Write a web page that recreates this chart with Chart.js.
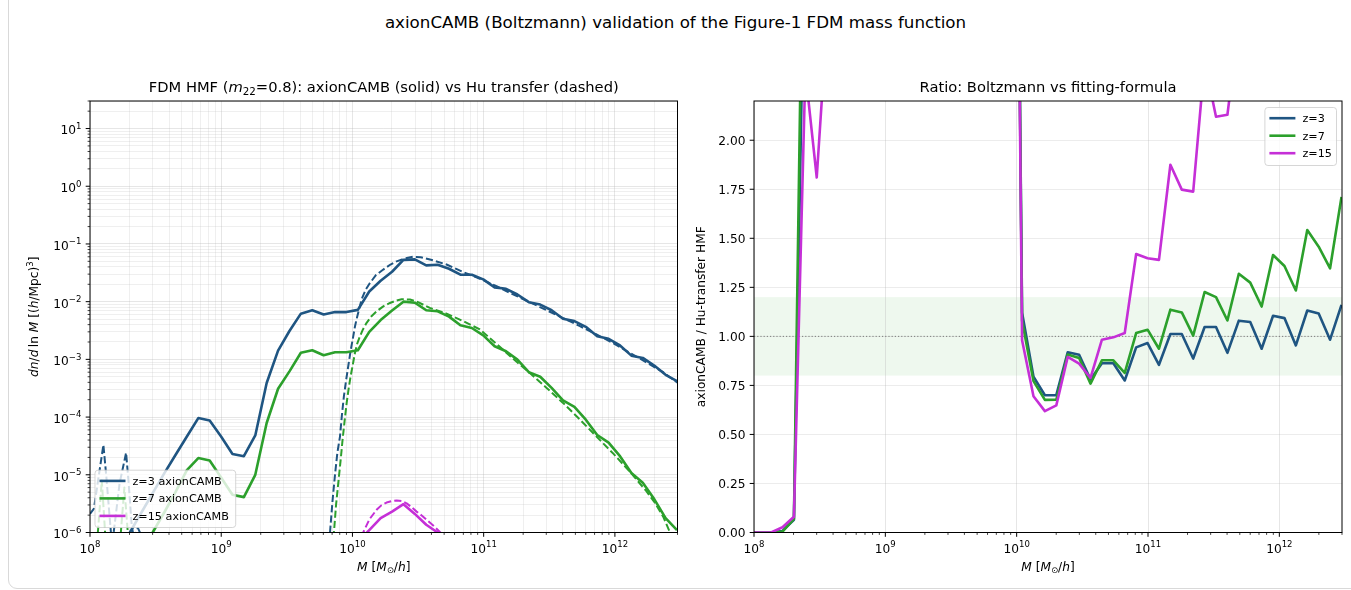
<!DOCTYPE html>
<html>
<head>
<meta charset="utf-8">
<title>axionCAMB validation of the FDM mass function</title>
<script src="https://cdn.jsdelivr.net/npm/chart.js@4.4.1/dist/chart.umd.min.js"></script>
<style>
  html, body { margin: 0; padding: 0; background: #fff; }
  body { position: relative; width: 1351px; height: 590px; overflow: hidden; font-family: "DejaVu Sans", sans-serif; }
  #frame { position: absolute; left: 8px; top: -20px; width: 1420px; height: 609px; box-sizing: border-box;
           border: 1px solid #d9d9d9; border-radius: 9px; }
  #suptitle { position: absolute; left: 0; top: 12px; width: 1351px; text-align: center; font-size: 16.7px;
              line-height: 20px; color: #000; white-space: nowrap; }
  canvas { position: absolute; top: 0; }
  #hmf { left: 0; }
  #ratio { left: 680px; }
</style>
</head>
<body>
<div id="frame"></div>
<div id="suptitle">axionCAMB (Boltzmann) validation of the Figure-1 FDM mass function</div>
<canvas id="hmf" width="700" height="590"></canvas>
<canvas id="ratio" width="671" height="590"></canvas>
<script>
/*
axionCAMB vs Hu-transfer FDM halo mass function, plus the ratio panel
*/

// mass grid of the axionCAMB curves and of the ratios, log10(M / (Msun/h))
const logM = [7.9565, 8.0434, 8.1303, 8.2171, 8.3040, 8.3909, 8.4777, 8.5646, 8.6514, 8.7383,
  8.8252, 8.9120, 8.9989, 9.0857, 9.1726, 9.2595, 9.3463, 9.4332, 9.5200, 9.6069,
  9.6938, 9.7806, 9.8675, 9.9543, 10.0412, 10.1281, 10.2149, 10.3018, 10.3886, 10.4755,
  10.5624, 10.6492, 10.7361, 10.8229, 10.9098, 10.9967, 11.0835, 11.1704, 11.2572, 11.3441,
  11.4310, 11.5178, 11.6047, 11.6915, 11.7784, 11.8653, 11.9521, 12.0390, 12.1258, 12.2127,
  12.2996, 12.3864, 12.4733];

// axionCAMB dn/dlnM [(h/Mpc)^3] (solid)
const hmfZ3 = [1e-8, 2e-8, 5e-8, 2e-7, 1.0e-6, 2.2e-6, 4.8e-6, 1.05e-5, 2.2e-5, 4.6e-5,
  9.6e-5, 8.7e-5, 4.6e-5, 2.3e-5, 2.1e-5, 4.8e-5, 3.9e-4, 1.42e-3, 3.1e-3, 6.2e-3,
  7.1e-3, 6.0e-3, 6.6e-3, 6.6e-3, 7.2e-3, 1.5e-2, 2.3e-2, 3.3e-2, 5.3e-2, 5.4e-2,
  4.25e-2, 4.37e-2, 3.72e-2, 2.93e-2, 2.93e-2, 2.43e-2, 1.77e-2, 1.67e-2, 1.33e-2, 9.8e-3,
  8.9e-3, 7.1e-3, 5.05e-3, 4.6e-3, 3.66e-3, 2.52e-3, 2.27e-3, 1.74e-3, 1.16e-3, 1.06e-3,
  7.8e-4, 5.4e-4, 4.2e-4];
const hmfZ7 = [5e-10, 1e-9, 3e-9, 1e-8, 4e-8, 2e-7, 1.0e-6, 2.2e-6, 5e-6, 1.2e-5,
  1.95e-5, 1.77e-5, 9e-6, 4.5e-6, 4.1e-6, 1.0e-5, 7.9e-5, 3.1e-4, 6.2e-4, 1.3e-3,
  1.44e-3, 1.18e-3, 1.33e-3, 1.33e-3, 1.44e-3, 3.0e-3, 4.8e-3, 7.0e-3, 1.0e-2, 9.6e-3,
  7.1e-3, 6.8e-3, 5.5e-3, 3.9e-3, 3.5e-3, 2.6e-3, 1.69e-3, 1.38e-3, 9.9e-4, 6.0e-4,
  5.0e-4, 3.2e-4, 1.95e-4, 1.5e-4, 9.0e-5, 4.9e-5, 3.6e-5, 2.1e-5, 1.07e-5, 7.3e-6,
  3.8e-6, 1.77e-6, 1.1e-6];
const hmfZ15 = [1e-8, 1.2e-8, 1.5e-8, 2e-8, 2.5e-8, 3e-8, 4e-8, 5e-8, 6e-8, 7e-8,
  8e-8, 9e-8, 1e-7, 1.1e-7, 1.2e-7, 1.4e-7, 1.6e-7, 1.8e-7, 2.1e-7, 2.5e-7,
  3e-7, 3.6e-7, 4.3e-7, 5.2e-7, 6.9e-7, 1.1e-6, 1.77e-6, 2.3e-6, 3.1e-6, 2.1e-6,
  1.36e-6, 1.0e-6, 6.5e-7, 4e-7, 3e-7, 2e-7, 1.4e-7, 1e-7, 6e-8, 4e-8,
  2.5e-8, 1.5e-8, 9e-9, 5e-9, 3e-9, 1.6e-9, 9e-10, 5e-10, 2.5e-10, 1.2e-10,
  6e-11, 3e-11, 1.5e-11];

// Hu-transfer HMF (dashed), each on its own mass sampling
const huLogM3 = [8.000, 8.030, 8.065, 8.102, 8.125, 8.150, 8.168, 8.190, 8.225, 8.275,
  8.295, 8.318, 8.335, 8.365, 8.400, 8.450, 8.800, 9.300, 9.700, 9.800,
  9.829, 9.848, 9.867, 9.885, 9.905, 9.920, 9.935, 9.952, 9.968, 9.987,
  10.006, 10.020, 10.037, 10.070, 10.100, 10.133, 10.180, 10.235, 10.290, 10.337,
  10.400, 10.460, 10.520, 10.615, 10.717, 10.844, 10.971, 11.098, 11.220, 11.352,
  11.480, 11.605, 11.730, 11.860, 11.990, 12.113, 12.240, 12.367, 12.480];
const huZ3 = [2.1e-6, 2.6e-6, 9e-6, 3.3e-5, 9e-6, 1.8e-6, 6e-7, 1.5e-6, 7e-6, 2.4e-5,
  7e-6, 1.3e-6, 8e-7, 1.2e-6, 8e-7, 2e-7, 1e-8, 1e-8, 1e-8, 1e-7,
  1e-6, 3.5e-6, 1e-5, 2.4e-5, 4.6e-5, 1.1e-4, 2.3e-4, 4.4e-4, 7.6e-4, 1.45e-3,
  2.5e-3, 3.8e-3, 5.6e-3, 1.1e-2, 1.6e-2, 2.1e-2, 2.9e-2, 3.6e-2, 4.4e-2, 5.0e-2,
  5.6e-2, 6.0e-2, 5.9e-2, 5.2e-2, 4.4e-2, 3.25e-2, 2.5e-2, 1.86e-2, 1.35e-2, 9.8e-3,
  7.1e-3, 5.2e-3, 3.8e-3, 2.7e-3, 1.9e-3, 1.3e-3, 8.9e-4, 6.0e-4, 3.9e-4];
const huLogM7 = [8.000, 8.060, 8.090, 8.115, 8.140, 8.235, 8.262, 8.288, 8.310, 8.600,
  9.300, 9.800, 9.845, 9.859, 9.875, 9.892, 9.910, 9.925, 9.940, 9.956,
  9.970, 9.986, 10.000, 10.019, 10.037, 10.057, 10.080, 10.108, 10.145, 10.184,
  10.235, 10.286, 10.330, 10.375, 10.438, 10.500, 10.590, 10.717, 10.844, 10.971,
  11.098, 11.220, 11.352, 11.480, 11.605, 11.730, 11.860, 11.990, 12.113, 12.240,
  12.300, 12.367, 12.420, 12.480];
const huZ7 = [3e-7, 1e-6, 8e-6, 1e-6, 2e-7, 1e-6, 6e-6, 1e-6, 2e-7, 1e-8,
  1e-8, 1e-8, 2e-7, 1e-6, 3e-6, 7.2e-6, 1.8e-5, 4.1e-5, 8.5e-5, 1.76e-4,
  3.0e-4, 5.1e-4, 7.5e-4, 1.29e-3, 1.9e-3, 2.5e-3, 3.3e-3, 4.3e-3, 5.6e-3, 6.8e-3,
  8.3e-3, 9.5e-3, 1.04e-2, 1.1e-2, 1.09e-2, 9.8e-3, 7.8e-3, 6.2e-3, 4.6e-3, 3.3e-3,
  1.85e-3, 1.05e-3, 5.8e-4, 3.2e-4, 1.76e-4, 9.2e-5, 4.6e-5, 2.3e-5, 1.14e-5, 5.2e-6,
  3.4e-6, 1.9e-6, 1.0e-6, 5.5e-7];
const huLogM15 = [9.900, 10.000, 10.050, 10.082, 10.130, 10.184, 10.220, 10.260, 10.300, 10.337,
  10.375, 10.413, 10.450, 10.489, 10.530, 10.566, 10.620, 10.670, 10.750, 10.900, 11.200];
const huZ15 = [1e-8, 2e-7, 6e-7, 1.0e-6, 1.7e-6, 2.47e-6, 2.95e-6, 3.3e-6, 3.5e-6, 3.6e-6,
  3.5e-6, 3.2e-6, 2.75e-6, 2.3e-6, 1.95e-6, 1.65e-6, 1.3e-6, 1.0e-6, 6e-7, 2e-7, 1e-8];

// axionCAMB / Hu-transfer ratio on the logM grid
const ratioZ3 = [0, 0, 0, 0.008, 0.065, 3.3,
  40, 300, 2e3, 1e4, 5e4, 2e5, 5e5, 8e5, 1e6, 9e5, 6e5, 3e5, 1e5, 3e4, 8e3, 1.5e3, 300,
  7, 1.12, 0.794, 0.70, 0.70, 0.919, 0.906, 0.78, 0.863, 0.863,
  0.775, 0.944, 0.966, 0.855, 1.012, 1.012, 0.887, 1.048, 1.048, 0.916,
  1.08, 1.073, 0.937, 1.105, 1.093, 0.954, 1.132, 1.117, 0.983, 1.161];
const ratioZ7 = [0, 0, 0, 0.005, 0.07, 4.0,
  50, 400, 3e3, 1.5e4, 7e4, 3e5, 7e5, 1e6, 1.2e6, 1e6, 7e5, 3e5, 1e5, 3e4, 8e3, 1.5e3, 300,
  7, 1.08, 0.772, 0.676, 0.677, 0.907, 0.89, 0.759, 0.878, 0.878,
  0.814, 1.017, 1.034, 0.937, 1.136, 1.122, 1.004, 1.226, 1.2, 1.081,
  1.319, 1.274, 1.152, 1.415, 1.359, 1.234, 1.542, 1.457, 1.347, 1.711];
const ratioZ15 = [0, 0, 0, 0.027, 0.08, 2.35, 1.81, 2.7,
  20, 90, 400, 2e3, 8e3, 3e4, 8e4, 1e5, 8e4, 4e4, 1.5e4, 4e3, 900, 200, 40,
  7, 0.98, 0.695, 0.619, 0.648, 0.895, 0.861, 0.788, 0.983, 0.995,
  1.017, 1.42, 1.398, 1.39, 1.875, 1.748, 1.738, 2.4, 2.12, 2.13,
  2.6, 2.55, 2.4, 3.0, 2.95, 2.6, 3.4, 3.3, 2.9, 3.9];

const redshiftLabels = ['z=3', 'z=7', 'z=15'];
const zColors = ['#1f5582', '#2ca02c', '#c52fd7'];

// axis ranges and labelled ticks
const massRange = [1e8, 3e12];
const hmfRange = [1e-6, 30];
const ratioRange = [0, 2.2];
const ratioTicks = [0, 0.25, 0.5, 0.75, 1.0, 1.25, 1.5, 1.75, 2.0];
const goodBand = [0.8, 1.2];


// ---- helpers ----
const FONT = '"DejaVu Sans", sans-serif';
const up = t => ({ t });
const it = t => ({ t, it: true });
const sub = t => ({ t, sc: 0.7, dy: 0.2 });
const sup = t => ({ t, sc: 0.7, dy: -0.45 });

const pts = (lx, ys) => lx.map((l, i) => ({ x: Math.pow(10, l), y: ys[i] }));
const isDecade = v => Math.abs(Math.log10(v) - Math.round(Math.log10(v))) < 1e-6;

// 1..9 x 10^n ticks inside a range
function logTicks(min, max) {
  const out = [];
  for (let e = Math.floor(Math.log10(min)); e <= Math.ceil(Math.log10(max)); e++) {
    for (let m = 1; m <= 9; m++) {
      const v = m * Math.pow(10, e);
      if (v >= min * (1 - 1e-9) && v <= max * (1 + 1e-9)) out.push(v);
    }
  }
  return out;
}

// mathtext-like text: segments with italic / sub / sup
function drawRich(ctx, segs, x, y, size, align, angle) {
  const parts = segs.map(s => {
    const font = (s.it ? 'italic ' : '') + (size * (s.sc || 1)) + 'px ' + FONT;
    ctx.font = font;
    return { t: s.t, font, w: ctx.measureText(s.t).width, dy: (s.dy || 0) * size };
  });
  const total = parts.reduce((a, p) => a + p.w, 0);
  let cx = align === 'center' ? -total / 2 : (align === 'right' ? -total : 0);
  ctx.save();
  ctx.translate(x, y);
  if (angle) ctx.rotate(angle);
  ctx.fillStyle = '#000';
  ctx.textAlign = 'left';
  ctx.textBaseline = 'alphabetic';
  for (const p of parts) {
    ctx.font = p.font;
    ctx.fillText(p.t, cx, p.dy);
    cx += p.w;
  }
  ctx.restore();
}

function decadeLabel(v) {
  const n = Math.round(Math.log10(v));
  return [up('10'), sup(n < 0 ? '\u2212' + (-n) : String(n))];
}

// spines, ticks, labels, titles, in-axes legend, reference band
const axesDeco = {
  id: 'axesDeco',

  beforeDraw(chart, args, o) {
    if (!o.band) return;
    const { ctx, chartArea: a, scales: { y } } = chart;
    const yTop = y.getPixelForValue(o.band[1]);
    const yBot = y.getPixelForValue(o.band[0]);
    ctx.save();
    ctx.fillStyle = 'rgba(44,160,44,0.08)';
    ctx.fillRect(a.left, yTop, a.right - a.left, yBot - yTop);
    ctx.restore();
  },

  beforeDatasetsDraw(chart, args, o) {
    if (o.refLine == null) return;
    const { ctx, chartArea: a, scales: { y } } = chart;
    const py = y.getPixelForValue(o.refLine);
    ctx.save();
    ctx.strokeStyle = 'rgba(90,90,90,0.75)';
    ctx.lineWidth = 1;
    ctx.setLineDash([1.2, 2]);
    ctx.beginPath();
    ctx.moveTo(a.left, py);
    ctx.lineTo(a.right, py);
    ctx.stroke();
    ctx.restore();
  },

  afterDraw(chart, args, o) {
    const { ctx, chartArea: a, scales: { x, y } } = chart;
    ctx.save();
    ctx.strokeStyle = '#000';
    ctx.fillStyle = '#000';

    const line = (x1, y1, x2, y2, w) => {
      ctx.lineWidth = w;
      ctx.beginPath();
      ctx.moveTo(x1, y1);
      ctx.lineTo(x2, y2);
      ctx.stroke();
    };

    // x ticks
    for (const t of x.ticks) {
      const px = x.getPixelForValue(t.value);
      const major = isDecade(t.value);
      line(px, a.bottom, px, a.bottom + (major ? 4.3 : 2.4), major ? 1 : 0.75);
      if (major) drawRich(ctx, decadeLabel(t.value), px, a.bottom + 20.3, 12.2, 'center');
    }

    // y ticks
    for (const t of y.ticks) {
      const py = y.getPixelForValue(t.value);
      if (o.yLog) {
        const major = isDecade(t.value);
        line(a.left, py, a.left - (major ? 4.3 : 2.4), py, major ? 1 : 0.75);
        if (major) drawRich(ctx, decadeLabel(t.value), a.left - 8.6, py + 5.85, 12.2, 'right');
      } else {
        line(a.left, py, a.left - 4.3, py, 1);
        drawRich(ctx, [up(t.value.toFixed(2))], a.left - 8.6, py + 4.45, 12.2, 'right');
      }
    }

    // spines
    ctx.lineWidth = 1;
    ctx.strokeRect(a.left, a.top, a.right - a.left, a.bottom - a.top);

    // titles
    const cx = (a.left + a.right) / 2;
    drawRich(ctx, o.title, cx, a.top - 9, 14.7, 'center');
    drawRich(ctx, o.xTitle, cx, a.bottom + 38.5, 12.2, 'center');
    drawRich(ctx, o.yTitle, o.yTitleX, (a.top + a.bottom) / 2, 12.2, 'center', -Math.PI / 2);

    // legend
    const L = o.legend;
    const bx = L.corner === 'ur' ? a.right - L.inset - L.w : a.left + L.inset;
    const by = L.corner === 'ur' ? a.top + L.inset + 1 : a.bottom - L.inset - L.h;
    ctx.beginPath();
    ctx.roundRect(bx, by, L.w, L.h, 3);
    ctx.fillStyle = 'rgba(255,255,255,0.8)';
    ctx.fill();
    ctx.strokeStyle = 'rgba(204,204,204,0.8)';
    ctx.lineWidth = 1;
    ctx.stroke();
    L.labels.forEach((lab, i) => {
      const ry = by + 10.7 + i * 17.5;
      ctx.strokeStyle = zColors[i];
      line(bx + 4.5, ry, bx + 30.5, ry, 2.6);
      ctx.fillStyle = '#000';
      ctx.font = '11.2px ' + FONT;
      ctx.textAlign = 'left';
      ctx.textBaseline = 'alphabetic';
      ctx.fillText(lab, bx + 37.5, ry + 4);
    });

    ctx.restore();
  }
};

const lineSet = (data, color, dashed, order) => ({
  data,
  borderColor: color,
  borderWidth: dashed ? 2.0 : 2.6,
  borderDash: dashed ? [7.2, 3.1] : [],
  borderJoinStyle: 'round',
  pointRadius: 0,
  fill: false,
  tension: 0,
  order
});

const gridColor = (minorAlpha) => c => {
  if (!c.tick) return 'rgba(0,0,0,0)';
  return isDecade(c.tick.value) ? 'rgba(176,176,176,0.4)' : 'rgba(176,176,176,' + minorAlpha + ')';
};

const xMassScale = (minorAlpha) => ({
  type: 'logarithmic',
  min: massRange[0],
  max: massRange[1],
  afterBuildTicks: s => { s.ticks = logTicks(massRange[0], massRange[1]).map(v => ({ value: v })); },
  afterFit: s => { s.height = 40; },
  ticks: { display: false },
  grid: { drawTicks: false, color: gridColor(minorAlpha), lineWidth: 0.8 },
  border: { display: false }
});

const xTitle = [it('M'), up(' ['), it('M'), sub('\u2299'), up('/'), it('h'), up(']')];


// ---- left panel: HMF ----
new Chart(document.getElementById('hmf'), {
  type: 'line',
  data: {
    datasets: [
      lineSet(pts(logM, hmfZ3), zColors[0], false, -1),
      lineSet(pts(huLogM3, huZ3), zColors[0], true, -2),
      lineSet(pts(logM, hmfZ7), zColors[1], false, -3),
      lineSet(pts(huLogM7, huZ7), zColors[1], true, -4),
      lineSet(pts(logM, hmfZ15), zColors[2], false, -5),
      lineSet(pts(huLogM15, huZ15), zColors[2], true, -6)
    ]
  },
  options: {
    responsive: false,
    animation: false,
    devicePixelRatio: 1,
    layout: { padding: { left: 40, right: 22.5, top: 101, bottom: 17.5 } },
    scales: {
      x: xMassScale(0.25),
      y: {
        type: 'logarithmic',
        min: hmfRange[0],
        max: hmfRange[1],
        afterBuildTicks: s => { s.ticks = logTicks(hmfRange[0], hmfRange[1]).map(v => ({ value: v })); },
        afterFit: s => { s.width = 50; },
        ticks: { display: false },
        grid: { drawTicks: false, color: gridColor(0.25), lineWidth: 0.8 },
        border: { display: false }
      }
    },
    plugins: {
      legend: { display: false },
      tooltip: { enabled: false },
      axesDeco: {
        yLog: true,
        title: [up('FDM HMF ('), it('m'), sub('22'), up('=0.8): axionCAMB (solid) vs Hu transfer (dashed)')],
        xTitle,
        yTitle: [it('dn'), up('/'), it('d'), up('\u2009ln '), it('M'), up(' [('), it('h'), up('/Mpc)'), sup('3'), up(']')],
        yTitleX: 38,
        legend: { corner: 'll', inset: 5, w: 140.7, h: 57.3,
                  labels: redshiftLabels.map(z => z + ' axionCAMB') }
      }
    }
  },
  plugins: [axesDeco]
});


// ---- right panel: ratio ----
new Chart(document.getElementById('ratio'), {
  type: 'line',
  data: {
    datasets: [
      lineSet(pts(logM, ratioZ3), zColors[0], false, -1),
      lineSet(pts(logM, ratioZ7), zColors[1], false, -2),
      lineSet(pts(logM, ratioZ15), zColors[2], false, -3)
    ]
  },
  options: {
    responsive: false,
    animation: false,
    devicePixelRatio: 1,
    layout: { padding: { left: 24, right: 9, top: 101, bottom: 17.5 } },
    scales: {
      x: xMassScale(0),
      y: {
        type: 'linear',
        min: ratioRange[0],
        max: ratioRange[1],
        afterBuildTicks: s => { s.ticks = ratioTicks.map(v => ({ value: v })); },
        afterFit: s => { s.width = 50; },
        ticks: { display: false },
        grid: { drawTicks: false, color: 'rgba(176,176,176,0.3)', lineWidth: 0.8 },
        border: { display: false }
      }
    },
    plugins: {
      legend: { display: false },
      tooltip: { enabled: false },
      axesDeco: {
        yLog: false,
        band: goodBand,
        refLine: 1.0,
        title: [up('Ratio: Boltzmann vs fitting-formula')],
        xTitle,
        yTitle: [up('axionCAMB / Hu-transfer HMF')],
        yTitleX: 24.5,
        legend: { corner: 'ur', inset: 5.5, w: 71.6, h: 58, labels: redshiftLabels }
      }
    }
  },
  plugins: [axesDeco]
});
</script>
</body>
</html>
